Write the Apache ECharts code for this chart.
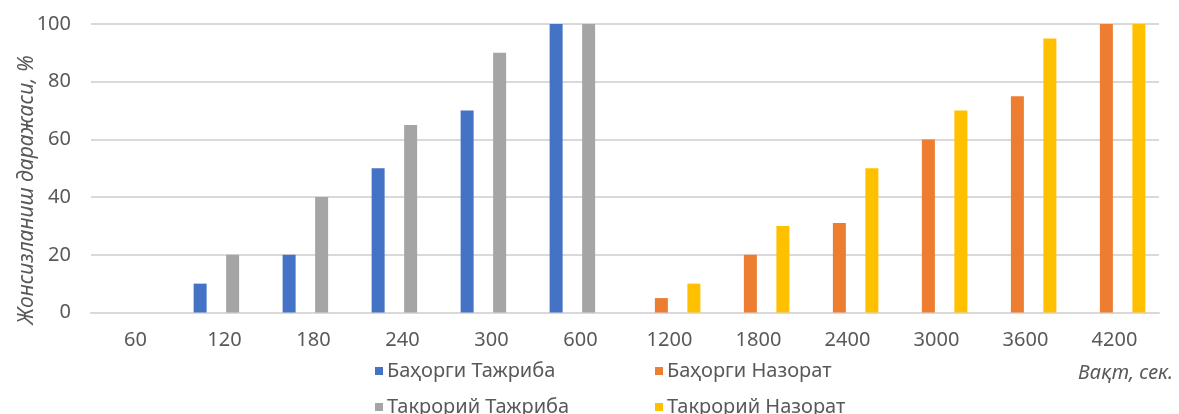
<!DOCTYPE html>
<html>
<head>
<meta charset="utf-8">
<script src="https://cdn.jsdelivr.net/npm/echarts@6/dist/echarts.min.js"></script>
<style>
html,body{margin:0;padding:0;background:#fff;}
#chart{width:1179px;height:414px;}
</style>
</head>
<body>
<div id="chart"></div>
<script>
const categories = ['60','120','180','240','300','600','1200','1800','2400','3000','3600','4200'];
const bahorgiTajriba   = [0, 10, 20, 50, 70, 100, null, null, null, null, null, null];
const bahorgiNazorat   = [null, null, null, null, null, null, 5, 20, 31, 60, 75, 100];
const takroriyTajriba  = [0, 20, 40, 65, 90, 100, null, null, null, null, null, null];
const takroriyNazorat  = [null, null, null, null, null, null, 10, 30, 50, 70, 95, 100];
const seriesNames = ['Баҳорги Тажриба','Баҳорги Назорат','Такрорий Тажриба','Такрорий Назорат'];
const yTicks = [0, 20, 40, 60, 80, 100];
const yAxisTitle = 'Жонсизланиш даражаси, %';
const xAxisTitle = 'Вақт, сек.';

const colors = ['#4472C4','#ED7D31','#A5A5A5','#FFC000'];
const font = 'Noto Sans';
const dataSets = [bahorgiTajriba, bahorgiNazorat, takroriyTajriba, takroriyNazorat];

const chart = echarts.init(document.getElementById('chart'), null, {renderer:'canvas'});

const legendPos = [
  {left: 375, top: 361},
  {left: 655, top: 361},
  {left: 375, top: 397},
  {left: 655, top: 397}
];

const option = {
  animation: false,
  color: colors,
  grid: {left: 91, right: 20, top: 24, bottom: 101.5, containLabel: false},
  legend: seriesNames.map((n, i) => ({
    data: [n],
    left: legendPos[i].left,
    top: legendPos[i].top,
    padding: 0,
    itemWidth: 8,
    itemHeight: 8,
    icon: 'rect',
    selectedMode: false,
    textStyle: {fontFamily: font, fontSize: 20, color: '#595959', lineHeight: 20, padding: [0,0,0,-1]}
  })),
  xAxis: {
    type: 'category',
    data: categories,
    axisLine: {show: true, lineStyle: {color: '#d9d9d9', width: 2}},
    axisTick: {show: false},
    axisLabel: {fontFamily: font, fontSize: 20, color: '#595959', margin: 18}
  },
  yAxis: {
    type: 'value',
    min: yTicks[0],
    max: yTicks[yTicks.length - 1],
    interval: yTicks[1] - yTicks[0],
    axisLine: {show: false},
    axisTick: {show: false},
    splitLine: {lineStyle: {color: '#d9d9d9', width: 2}},
    axisLabel: {fontFamily: font, fontSize: 20, color: '#595959', margin: 20}
  },
  graphic: [{
    type: 'text',
    x: 27,
    y: 190,
    rotation: Math.PI / 2,
    style: {text: yAxisTitle, font: 'italic 21px "Noto Sans"', fill: '#595959', align: 'center', verticalAlign: 'middle'}
  }, {
    type: 'text',
    right: 6,
    top: 363,
    style: {text: xAxisTitle, font: 'italic 20px "Noto Sans"', fill: '#595959'}
  }],
  series: seriesNames.map((n, i) => ({
    name: n,
    type: 'bar',
    data: dataSets[i],
    barWidth: 13,
    barGap: '25%',
    itemStyle: {color: colors[i]}
  }))
};
chart.setOption(option);
</script>
</body>
</html>
